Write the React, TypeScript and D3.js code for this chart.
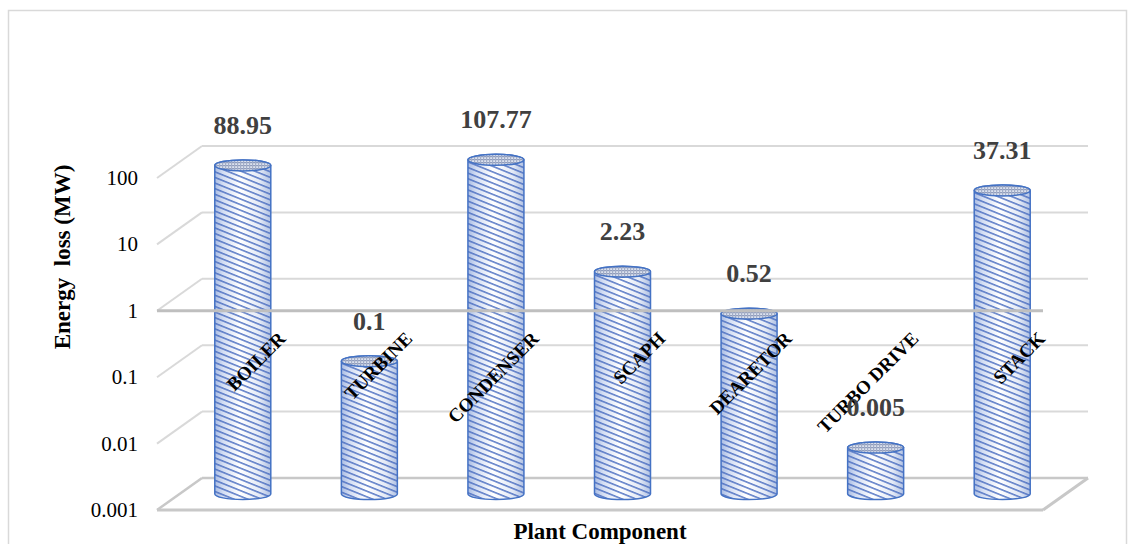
import React from "react";
import * as d3 from "d3";

const categories = ["BOILER", "TURBINE", "CONDENSER", "SCAPH", "DEARETOR", "TURBO DRIVE", "STACK"];
const values = [88.95, 0.1, 107.77, 2.23, 0.52, 0.005, 37.31];
const valueLabels = ["88.95", "0.1", "107.77", "2.23", "0.52", "0.005", "37.31"];
const tickValues = [0.001, 0.01, 0.1, 1, 10, 100];
const tickLabels = ["0.001", "0.01", "0.1", "1", "10", "100"];
const yTitle = "Energy  loss (MW)";
const xTitle = "Plant Component";

const W = 1134;
const H = 544;
const plotLeft = 157;
const plotRight = 1043;
const plotBottom = 510;
const plotTop = 178;
const depthX = 45;
const depthY = -32;
const crossAt = 1;
const rx = 28;
const ry = 5.5;
const serif = "'Liberation Serif', 'Times New Roman', serif";

export default function App() {
  const y = d3.scaleLog().domain([0.001, 100]).range([plotBottom, plotTop]);
  const x = d3.scaleBand<string>().domain(categories).range([plotLeft, plotRight]).padding(0);
  const floorV = 0.001;

  const bars = categories.map((c, i) => {
    const cx = (x(c) as number) + x.bandwidth() / 2 + depthX / 2;
    const yTop = y(values[i]) + depthY / 2;
    const yBot = y(floorV) + depthY / 2;
    const body = `M${cx - rx},${yTop} L${cx - rx},${yBot} A${rx},${ry} 0 0 0 ${cx + rx},${yBot} L${cx + rx},${yTop} A${rx},${ry} 0 0 0 ${cx - rx},${yTop} Z`;
    return { c, i, cx, yTop, yBot, body };
  });

  return (
    <svg width={W} height={H} style={{ position: "absolute", left: 0, top: 0, background: "#fff" }}>
      <defs>
        <linearGradient id="bodyGrad" x1="0" x2="1" y1="0" y2="0">
          <stop offset="0" stopColor="#a9bce3" />
          <stop offset="0.15" stopColor="#d4def3" />
          <stop offset="0.45" stopColor="#ffffff" />
          <stop offset="0.8" stopColor="#e4eaf6" />
          <stop offset="1" stopColor="#b0c1e3" />
        </linearGradient>
        <pattern id="stripes" patternUnits="userSpaceOnUse" width="200" height="5.2" patternTransform="rotate(22)">
          <rect x="0" y="0" width="200" height="1.6" fill="#4a6dc0" fillOpacity="0.85" />
        </pattern>
        <pattern id="capPat" patternUnits="userSpaceOnUse" width="3" height="3">
          <rect width="3" height="3" fill="#dde3ef" />
          <rect width="3" height="1.2" fill="#8f9cbc" />
          <rect width="1.2" height="3" fill="#a3aec8" />
        </pattern>
      </defs>
      <rect x={8.5} y={10.5} width={1118} height={560} fill="#fff" stroke="#d9d9d9" strokeWidth={1.5} />

      {/* back wall gridlines */}
      {tickValues.map((t, k) => (
        <line key={"bw" + k} x1={plotLeft + depthX} x2={plotRight + depthX} y1={y(t) + depthY} y2={y(t) + depthY}
          stroke={t === floorV ? "#c8c8c8" : "#d9d9d9"} strokeWidth={t === floorV ? 2.5 : 2} />
      ))}
      {/* side wall gridlines */}
      {tickValues.map((t, k) => (
        <line key={"sw" + k} x1={plotLeft} x2={plotLeft + depthX} y1={y(t)} y2={y(t) + depthY}
          stroke={t === floorV ? "#c8c8c8" : "#d9d9d9"} strokeWidth={t === floorV ? 2.5 : 2} />
      ))}
      {/* floor front + right edge */}
      <line x1={plotLeft} x2={plotRight} y1={y(floorV)} y2={y(floorV)} stroke="#c8c8c8" strokeWidth={3} />
      <line x1={plotRight} x2={plotRight + depthX} y1={y(floorV)} y2={y(floorV) + depthY} stroke="#c8c8c8" strokeWidth={3} />

      {/* bars */}
      {bars.map((b) => (
        <g key={b.c}>
          <path d={b.body} fill="url(#bodyGrad)" />
          <path d={b.body} fill="url(#stripes)" />
          <path d={b.body} fill="none" stroke="#4472c4" strokeWidth={1.5} />
          <ellipse cx={b.cx} cy={b.yTop} rx={rx} ry={ry} fill="url(#capPat)" stroke="#4472c4" strokeWidth={1.5} />
        </g>
      ))}

      {/* category axis at value 1 */}
      <line x1={plotLeft} x2={plotRight} y1={y(crossAt)} y2={y(crossAt)} stroke="#bfbfbf" strokeWidth={3} />

      {/* tick labels */}
      {tickValues.map((t, k) => (
        <text key={"tl" + k} x={138} y={y(t)} textAnchor="end" dominantBaseline="central"
          fontFamily={serif} fontSize={21} fill="#000">{tickLabels[k]}</text>
      ))}

      {/* category labels */}
      {bars.map((b) => (
        <text key={"cl" + b.c} transform={`translate(${b.cx + 44},${y(crossAt) + 29}) rotate(-45)`}
          textAnchor="end" fontFamily={serif} fontWeight="bold" fontSize={19} fill="#000">{b.c}</text>
      ))}

      {/* value labels */}
      {bars.map((b) => (
        <text key={"vl" + b.c} x={b.cx} y={b.yTop - 40} textAnchor="middle" dominantBaseline="central"
          fontFamily={serif} fontWeight="bold" fontSize={26} fill="#404040">{valueLabels[b.i]}</text>
      ))}

      <text transform={`translate(70,257) rotate(-90)`} textAnchor="middle" fontFamily={serif}
        fontWeight="bold" fontSize={23} fill="#000" style={{ whiteSpace: "pre" }}>{yTitle}</text>
      <text x={600} y={539} textAnchor="middle" fontFamily={serif} fontWeight="bold" fontSize={23} fill="#000">{xTitle}</text>
    </svg>
  );
}
